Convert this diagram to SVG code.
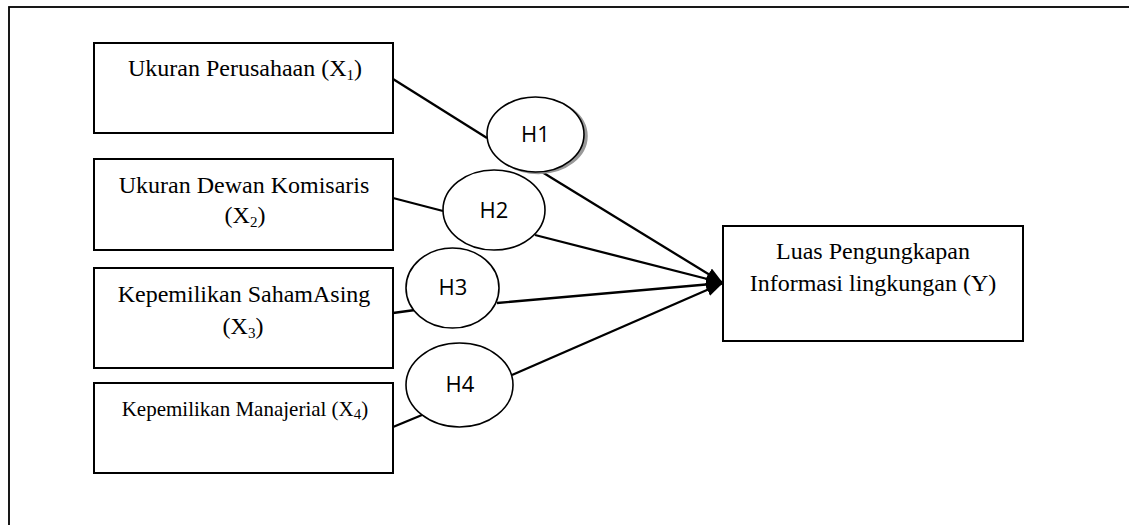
<svg xmlns="http://www.w3.org/2000/svg" width="1129" height="525" viewBox="0 0 1129 525">
<style>
.box{fill:#fff;stroke:#000;stroke-width:2}
.ell{fill:#fff;stroke:#000;stroke-width:1.6}
.t{font-family:"Liberation Serif","Times New Roman",serif;font-size:24px;fill:#000;text-anchor:middle}
.t4{font-size:21px}
.sub{font-size:15px}
.h{font-family:"Open Sans","Liberation Sans",sans-serif;font-size:22px;fill:#000;text-anchor:middle}
.ln{stroke:#000;stroke-width:2.3;fill:none}
.arr{marker-end:url(#ah)}
</style>
<defs>
<marker id="ah" markerUnits="userSpaceOnUse" markerWidth="18" markerHeight="14" refX="17" refY="6.5" orient="auto">
<path d="M0,0 L17,6.5 L0,13 z" fill="#000"/>
</marker>
</defs>
<rect width="1129" height="525" fill="#fff"/>
<rect x="9" y="7" width="1200" height="600" fill="none" stroke="#000" stroke-width="1.8"/>

<g id="connectors">
<line class="ln" x1="393" y1="79" x2="487" y2="138"/>
<line class="ln arr" x1="542" y1="172" x2="723" y2="283"/>
<line class="ln" x1="393" y1="198" x2="443" y2="211"/>
<line class="ln arr" x1="535" y1="235" x2="723" y2="283"/>
<line class="ln" x1="393" y1="313" x2="415" y2="310"/>
<line class="ln arr" x1="497" y1="303" x2="723" y2="283"/>
<line class="ln" x1="393" y1="427" x2="422" y2="415"/>
<line class="ln arr" x1="512" y1="375" x2="723" y2="283"/>
</g>

<g id="x1">
<rect class="box" x="94" y="43" width="299" height="90"/>
<text class="t" x="245" y="76">Ukuran Perusahaan (X<tspan class="sub" dy="4">1</tspan><tspan dy="-4">)</tspan></text>
</g>
<g id="x2">
<rect class="box" x="94" y="159" width="299" height="91"/>
<text class="t" x="244" y="193">Ukuran Dewan Komisaris</text>
<text class="t" x="245" y="223">(X<tspan class="sub" dy="4">2</tspan><tspan dy="-4">)</tspan></text>
</g>
<g id="x3">
<rect class="box" x="94" y="268" width="299" height="100"/>
<text class="t" x="244" y="302">Kepemilikan SahamAsing</text>
<text class="t" x="243" y="334">(X<tspan class="sub" dy="4">3</tspan><tspan dy="-4">)</tspan></text>
</g>
<g id="x4">
<rect class="box" x="94" y="383" width="299" height="90"/>
<text class="t t4" x="245" y="416">Kepemilikan Manajerial (X<tspan class="sub" dy="3">4</tspan><tspan dy="-3">)</tspan></text>
</g>
<g id="y">
<rect class="box" x="723" y="226" width="300" height="115"/>
<text class="t" x="873" y="259">Luas Pengungkapan</text>
<text class="t" x="873" y="291">Informasi lingkungan (Y)</text>
</g>

<g id="h1">
<ellipse cx="538.5" cy="136" rx="48.5" ry="37.5" fill="#999" stroke="#999" stroke-width="1.5"/>
<ellipse class="ell" cx="535.5" cy="134.5" rx="48.5" ry="37.5"/>
<text class="h" x="535.5" y="142">H1</text>
</g>
<g id="h2">
<ellipse class="ell" cx="494" cy="210" rx="51" ry="40"/>
<text class="h" x="494" y="218">H2</text>
</g>
<g id="h3">
<ellipse class="ell" cx="452.5" cy="288" rx="46.5" ry="40"/>
<text class="h" x="453" y="295">H3</text>
</g>
<g id="h4">
<ellipse class="ell" cx="459.5" cy="385" rx="53.5" ry="42"/>
<text class="h" x="460" y="392">H4</text>
</g>
</svg>
